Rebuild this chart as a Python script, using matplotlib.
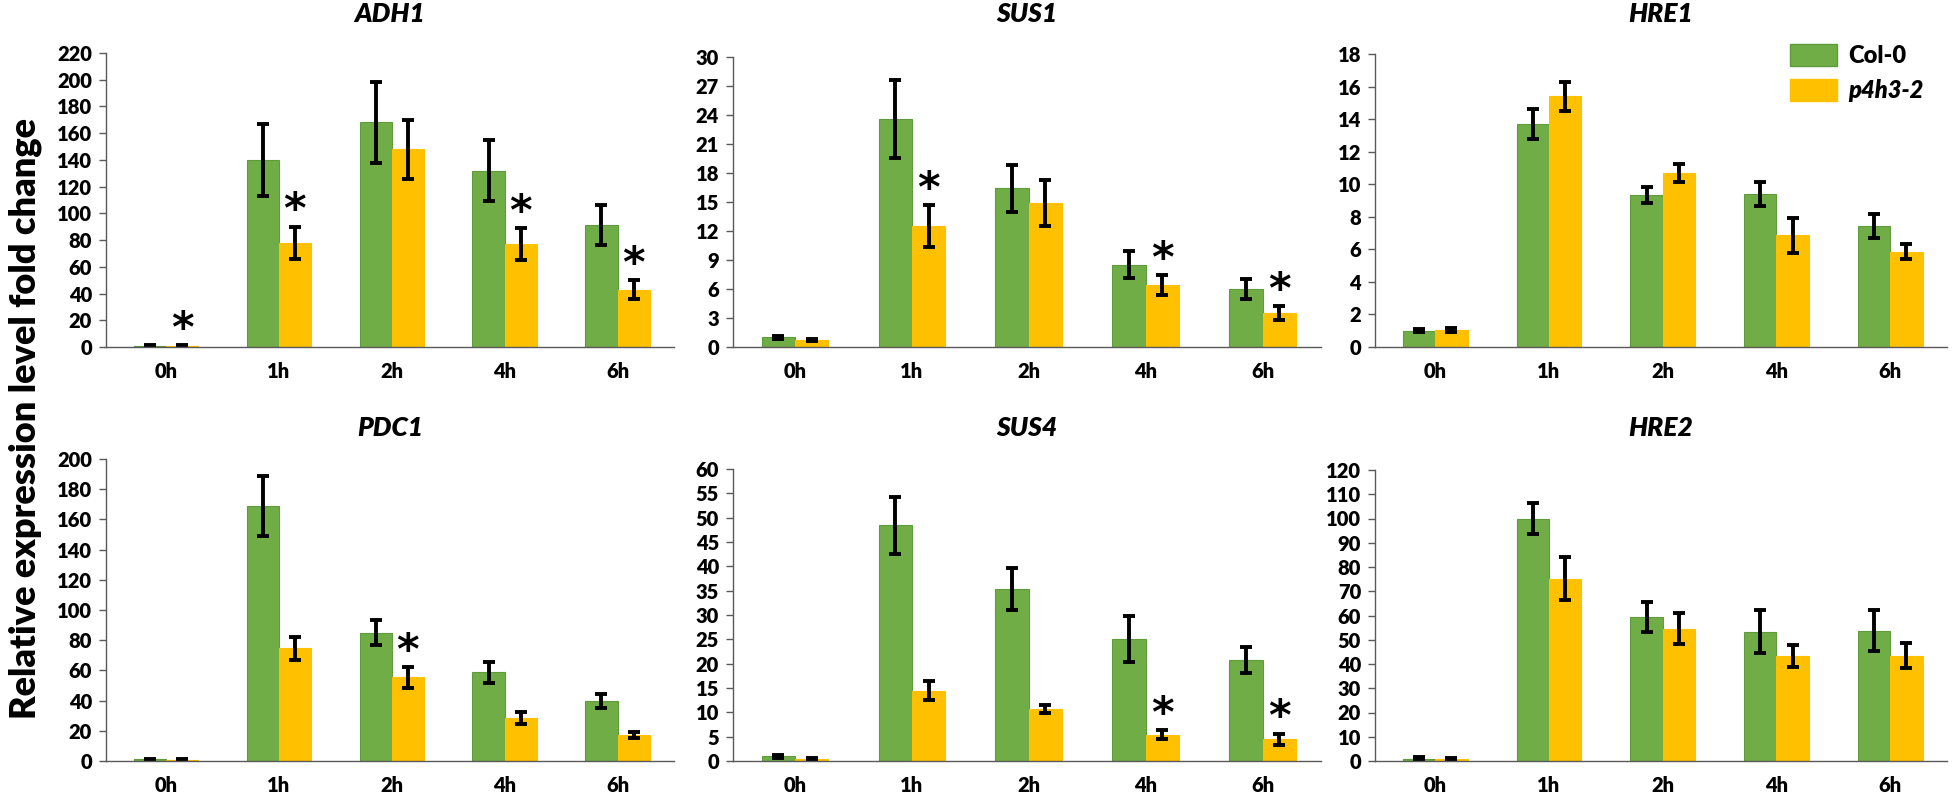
import matplotlib
matplotlib.use("Agg")
import matplotlib.pyplot as plt
import numpy as np
from matplotlib.patches import Patch

plt.rcParams['font.family'] = ['Lato', 'DejaVu Sans']

hours = ["0h", "1h", "2h", "4h", "6h"]

# mean values and error (SD) for each gene, Col-0 then p4h3-2
adh1_col = [1.0, 140, 168, 132, 91]
adh1_col_err = [0.6, 27, 30, 23, 15]
adh1_mut = [0.8, 78, 148, 77, 43]
adh1_mut_err = [0.5, 12, 22, 12, 7]
adh1_star = [0, 1, 3, 4]

sus1_col = [1.0, 23.6, 16.4, 8.5, 6.0]
sus1_col_err = [0.15, 4.0, 2.4, 1.4, 1.0]
sus1_mut = [0.7, 12.5, 14.9, 6.4, 3.5]
sus1_mut_err = [0.12, 2.2, 2.4, 1.05, 0.7]
sus1_star = [1, 3, 4]

hre1_col = [1.0, 13.7, 9.35, 9.4, 7.45]
hre1_col_err = [0.08, 0.9, 0.5, 0.75, 0.75]
hre1_mut = [1.05, 15.4, 10.7, 6.85, 5.85]
hre1_mut_err = [0.1, 0.9, 0.55, 1.05, 0.45]
hre1_star = []

pdc1_col = [1.0, 169, 85, 58.7, 39.7]
pdc1_col_err = [0.6, 20, 8.4, 7, 4.4]
pdc1_mut = [0.7, 74.6, 55.4, 28.7, 17.2]
pdc1_mut_err = [0.5, 7.4, 6.9, 4, 2]
pdc1_star = [2]

sus4_col = [1.0, 48.4, 35.4, 25.0, 20.7]
sus4_col_err = [0.3, 5.9, 4.35, 4.7, 2.7]
sus4_mut = [0.4, 14.45, 10.7, 5.4, 4.45]
sus4_mut_err = [0.2, 1.9, 0.9, 0.9, 1.15]
sus4_star = [3, 4]

hre2_col = [1.0, 100, 59.4, 53.4, 53.8]
hre2_col_err = [0.6, 6.3, 6, 8.7, 8.5]
hre2_mut = [0.7, 75.2, 54.6, 43.4, 43.4]
hre2_mut_err = [0.5, 8.8, 6.5, 4.5, 5.2]
hre2_star = []

panels = [
    ("ADH1", adh1_col, adh1_col_err, adh1_mut, adh1_mut_err, adh1_star, 220, 20),
    ("SUS1", sus1_col, sus1_col_err, sus1_mut, sus1_mut_err, sus1_star, 30, 3),
    ("HRE1", hre1_col, hre1_col_err, hre1_mut, hre1_mut_err, hre1_star, 18, 2),
    ("PDC1", pdc1_col, pdc1_col_err, pdc1_mut, pdc1_mut_err, pdc1_star, 200, 20),
    ("SUS4", sus4_col, sus4_col_err, sus4_mut, sus4_mut_err, sus4_star, 60, 5),
    ("HRE2", hre2_col, hre2_col_err, hre2_mut, hre2_mut_err, hre2_star, 120, 10),
]

green = "#70AD47"
green_edge = "#5E9B3A"
yellow = "#FFC000"
W, H = 1957, 797

fig = plt.figure(figsize=(W / 100, H / 100), dpi=100)

# pixel boxes of the plot areas
lefts = [106, 733, 1375]
rights = [674, 1321, 1947]
tops = [53, 57, 54, 459, 469, 470]
bottoms = [347, 761]
title_y = [14, 428]

x = np.arange(len(hours))
w = 0.285
err_kw = dict(ecolor="black", elinewidth=2.8, capsize=4, capthick=2.8)

axes = []
for i, (name, col, col_err, mut, mut_err, stars, ymax, step) in enumerate(panels):
    r, c = divmod(i, 3)
    top, bot = tops[i], bottoms[r]
    ax = fig.add_axes([lefts[c] / W, 1 - bot / H, (rights[c] - lefts[c]) / W, (bot - top) / H])
    axes.append(ax)
    ax.bar(x - w / 2, col, w, color=green, edgecolor=green_edge, linewidth=0.8,
           yerr=col_err, error_kw=err_kw, zorder=2)
    ax.bar(x + w / 2, mut, w, color=yellow, edgecolor=yellow, linewidth=0.8,
           yerr=mut_err, error_kw=err_kw, zorder=2)
    for k in stars:
        ax.annotate("*", xy=(x[k] + w / 2, mut[k] + mut_err[k]), xytext=(0, 11),
                    textcoords="offset points", ha="center", va="center",
                    fontsize=31, fontweight="bold", family=["DejaVu Sans"])
    ax.set_xlim(-0.53, 4.5)
    ax.set_ylim(0, ymax)
    ax.set_yticks(np.arange(0, ymax + step / 2, step))
    ax.set_xticks(x)
    ax.set_xticklabels(hours)
    ax.tick_params(axis="x", length=0, pad=11, labelsize=14.5)
    ax.tick_params(axis="y", length=5, width=1, color="#595959", labelsize=14.5, pad=5)
    for lab in ax.get_xticklabels() + ax.get_yticklabels():
        lab.set_fontweight("heavy")
    for s in ["top", "right"]:
        ax.spines[s].set_visible(False)
    for s in ["left", "bottom"]:
        ax.spines[s].set_color("#595959")
        ax.spines[s].set_linewidth(1)
    fig.text((lefts[c] + rights[c]) / 2 / W, 1 - title_y[r] / H, name, ha="center", va="center",
             fontsize=19, fontweight="heavy", fontstyle="italic")

handles = [Patch(facecolor=green, edgecolor=green_edge), Patch(facecolor=yellow, edgecolor=yellow)]
leg = fig.legend(handles, ["Col-0", "p4h3-2"], loc="upper left", frameon=False,
                 fontsize=17, handlelength=2.0, handleheight=1.05, handletextpad=0.45,
                 borderpad=0, borderaxespad=0, labelspacing=0.5,
                 bbox_to_anchor=(1790 / W, 1 - 44 / H))
for t in leg.get_texts():
    t.set_fontweight("heavy")
leg.get_texts()[1].set_fontstyle("italic")

fig.text(0.013, 0.475, "Relative expression level fold change", rotation=90,
         ha="center", va="center", fontsize=26, fontweight="heavy")

fig.savefig("out.png", dpi=100)
